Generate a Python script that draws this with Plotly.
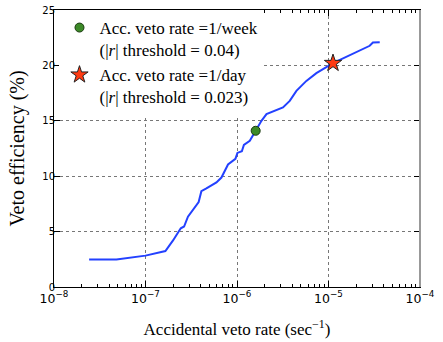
# Veto efficiency vs accidental veto rate
import plotly.graph_objects as go

rate = [2.42e-8, 4.81e-8, 1.0e-7, 1.65e-7, 2.0e-7, 2.43e-7, 2.64e-7, 2.91e-7,
        3.81e-7, 4.08e-7, 4.63e-7, 5.96e-7, 6.76e-7, 7.98e-7, 9.61e-7, 1.01e-6,
        1.13e-6, 1.19e-6, 1.38e-6, 1.60e-6, 1.85e-6, 2.10e-6, 3.18e-6, 3.77e-6,
        4.46e-6, 5.73e-6, 7.37e-6, 1.12e-5, 1.71e-5, 2.38e-5, 2.82e-5, 3.06e-5,
        3.63e-5]
eff = [2.48, 2.48, 2.83, 3.25, 4.2, 5.3, 5.46, 6.35,
       7.67, 8.65, 8.9, 9.44, 9.88, 11.06, 11.57, 12.1,
       12.25, 12.83, 13.2, 14.1, 15.0, 15.6, 16.2, 16.8,
       17.7, 18.6, 19.3, 20.2, 20.95, 21.5, 21.77, 22.07,
       22.1]

week_rate, week_eff = [1.60e-6], [14.1]
day_rate, day_eff = [1.12e-5], [20.2]

serif = "Liberation Serif"
sans = "DejaVu Sans"

fig = go.Figure()
fig.add_trace(go.Scatter(x=rate, y=eff, mode='lines',
                         line=dict(color='rgb(35,65,255)', width=2),
                         showlegend=False))
fig.add_trace(go.Scatter(x=week_rate, y=week_eff, mode='markers',
                         name='Acc. veto rate =1/week<br>(|<i>r</i>| threshold = 0.04)',
                         marker=dict(symbol='circle', size=9, color='#3c8a28',
                                     line=dict(color='#1a3a10', width=1))))
fig.add_trace(go.Scatter(x=day_rate, y=day_eff, mode='markers',
                         name='Acc. veto rate =1/day<br>(|<i>r</i>| threshold = 0.023)',
                         marker=dict(symbol='star', size=13, color='#ff3a12',
                                     line=dict(color='#222', width=1))))

# grey right-hand frame as in the original
fig.add_shape(type='line', xref='paper', yref='paper', x0=1, x1=1, y0=0, y1=1,
              line=dict(color='#999', width=2))

fig.update_layout(
    width=443, height=342,
    margin=dict(l=54, r=23, t=4, b=55),
    paper_bgcolor='white', plot_bgcolor='white',
    font=dict(family=serif, size=16, color='black'),
    legend=dict(x=0.015, y=1.0, xanchor='left', yanchor='top',
                bgcolor='white', borderwidth=0, valign='top',
                font=dict(family=serif, size=17), tracegroupgap=0),
    xaxis=dict(type='log', range=[-8, -4], dtick=1, exponentformat='power',
               showgrid=True, gridcolor='#777', griddash='dot', gridwidth=1,
               showline=True, linecolor='black', linewidth=1, mirror='allticks',
               ticks='inside', ticklen=6, tickcolor='black',
               minor=dict(ticks='inside', ticklen=3, tickcolor='black', showgrid=False),
               tickfont=dict(family=sans, size=10),
               title=dict(text='Accidental veto rate (sec<sup>−1</sup>)',
                          font=dict(family=serif, size=17), standoff=18),
               zeroline=False),
    yaxis=dict(range=[0, 25], dtick=5, ticklabeloverflow='allow',
               ticklabelstandoff=-4,
               showgrid=True, gridcolor='#777', griddash='dot', gridwidth=1,
               showline=True, linecolor='black', linewidth=1, mirror='allticks',
               ticks='inside', ticklen=6, tickcolor='black',
               tickfont=dict(family=sans, size=10),
               title=dict(text='Veto efficiency (%)',
                          font=dict(family=serif, size=20), standoff=12),
               zeroline=False),
)

fig.write_html("out.html", config={'displayModeBar': False},
               post_script="document.body.style.margin='0px';")
